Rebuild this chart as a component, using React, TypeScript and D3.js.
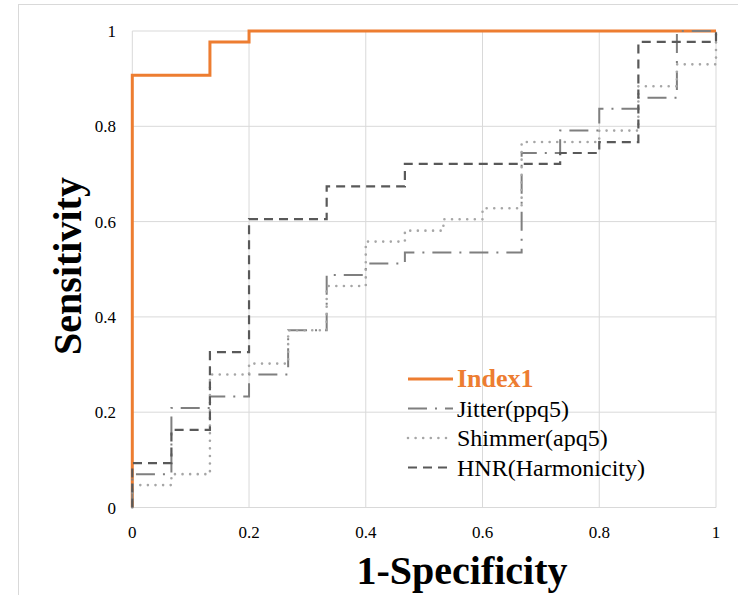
import React from "react";
import * as d3 from "d3";

const xTicks = [0, 0.2, 0.4, 0.6, 0.8, 1];
const yTicks = [0, 0.2, 0.4, 0.6, 0.8, 1];
const tickLabels = ["0", "0.2", "0.4", "0.6", "0.8", "1"];

const seriesNames = ["Index1", "Jitter(ppq5)", "Shimmer(apq5)", "HNR(Harmonicity)"];

const index1Fpr = [0, 0, 0.133, 0.133, 0.2, 0.2, 1];
const index1Tpr = [0, 0.907, 0.907, 0.977, 0.977, 1, 1];

const jitterFpr = [0, 0, 0.067, 0.067, 0.133, 0.133, 0.2, 0.2, 0.267, 0.267, 0.333, 0.333, 0.4, 0.4, 0.467, 0.467, 0.667, 0.667, 0.733, 0.733, 0.8, 0.8, 0.867, 0.867, 0.933, 0.933, 1];
const jitterTpr = [0, 0.07, 0.07, 0.209, 0.209, 0.233, 0.233, 0.279, 0.279, 0.372, 0.372, 0.488, 0.488, 0.512, 0.512, 0.535, 0.535, 0.744, 0.744, 0.791, 0.791, 0.837, 0.837, 0.86, 0.86, 1, 1];

const shimmerFpr = [0, 0, 0.067, 0.067, 0.133, 0.133, 0.2, 0.2, 0.267, 0.267, 0.333, 0.333, 0.4, 0.4, 0.467, 0.467, 0.533, 0.533, 0.6, 0.6, 0.667, 0.667, 0.8, 0.8, 0.867, 0.867, 0.933, 0.933, 1, 1];
const shimmerTpr = [0, 0.047, 0.047, 0.07, 0.07, 0.279, 0.279, 0.302, 0.302, 0.372, 0.372, 0.465, 0.465, 0.558, 0.558, 0.581, 0.581, 0.605, 0.605, 0.628, 0.628, 0.767, 0.767, 0.791, 0.791, 0.884, 0.884, 0.93, 0.93, 1];

const hnrFpr = [0, 0, 0.067, 0.067, 0.133, 0.133, 0.2, 0.2, 0.333, 0.333, 0.467, 0.467, 0.733, 0.733, 0.8, 0.8, 0.867, 0.867, 1, 1];
const hnrTpr = [0, 0.093, 0.093, 0.163, 0.163, 0.326, 0.326, 0.605, 0.605, 0.674, 0.674, 0.721, 0.721, 0.744, 0.744, 0.767, 0.767, 0.977, 0.977, 1];

const W = 738;
const H = 595;
const FONT = "Liberation Serif, Times New Roman, serif";
const TS: React.CSSProperties = { fontFamily: FONT };

const styles = [
  { color: "#ED7D31", width: 3, dash: "", cap: "butt" },
  { color: "#7f7f7f", width: 2, dash: "19 8 2 8", cap: "butt" },
  { color: "#a6a6a6", width: 2.6, dash: "0 7.6", cap: "round" },
  { color: "#595959", width: 2.2, dash: "9 6", cap: "butt" },
];

export default function App() {
  const x = d3.scaleLinear().domain([0, 1]).range([132.3, 716]);
  const y = d3.scaleLinear().domain([0, 1]).range([507.5, 31]);

  const series = [
    { fpr: index1Fpr, tpr: index1Tpr },
    { fpr: jitterFpr, tpr: jitterTpr },
    { fpr: shimmerFpr, tpr: shimmerTpr },
    { fpr: hnrFpr, tpr: hnrTpr },
  ];

  const line = d3
    .line<[number, number]>()
    .x((d) => x(d[0]))
    .y((d) => y(d[1]));

  const legendX0 = 408;
  const legendX1 = 453;
  const legendY0 = 379;
  const legendDy = 29.5;

  return (
    <svg
      width={W}
      height={H}
      style={{ position: "absolute", left: 0, top: 0, background: "#fff", fontFamily: FONT }}
    >
      <rect x={18.5} y={4.5} width={W + 10} height={H + 10} fill="#fff" stroke="#d9d9d9" strokeWidth={1} />
      {xTicks.map((t, i) => (
        <line key={"gx" + i} x1={x(t)} x2={x(t)} y1={y(0)} y2={y(1)} stroke="#d9d9d9" strokeWidth={1} />
      ))}
      {yTicks.map((t, i) => (
        <line key={"gy" + i} x1={x(0)} x2={x(1)} y1={y(t)} y2={y(t)} stroke="#d9d9d9" strokeWidth={1} />
      ))}
      {yTicks.map((t, i) => (
        <text key={"yl" + i} x={116} y={y(t) + 6} textAnchor="end" fontSize={17} fill="#000" style={TS}>
          {tickLabels[i]}
        </text>
      ))}
      {xTicks.map((t, i) => (
        <text key={"xl" + i} x={x(t)} y={538} textAnchor="middle" fontSize={17} fill="#000" style={TS}>
          {tickLabels[i]}
        </text>
      ))}
      {series.map((s, i) => {
        const pts = s.fpr.map((f, j) => [f, s.tpr[j]] as [number, number]);
        return (
          <path
            key={"s" + i}
            d={line(pts) || ""}
            fill="none"
            stroke={styles[i].color}
            strokeWidth={styles[i].width}
            strokeDasharray={styles[i].dash || undefined}
            strokeLinecap={styles[i].cap as any}
            strokeLinejoin="miter"
          />
        );
      })}
      {seriesNames.map((n, i) => {
        const ly = legendY0 + i * legendDy;
        return (
          <g key={"lg" + i}>
            <line
              x1={legendX0}
              x2={legendX1}
              y1={ly}
              y2={ly}
              stroke={styles[i].color}
              strokeWidth={styles[i].width}
              strokeDasharray={styles[i].dash || undefined}
              strokeLinecap={styles[i].cap as any}
            />
            <text
              x={457}
              y={ly + 8}
              fontSize={i === 0 ? 26 : 24}
              fontWeight={i === 0 ? "bold" : "normal"}
              fill={i === 0 ? "#ED7D31" : "#000"}
              style={TS}
            >
              {n}
            </text>
          </g>
        );
      })}
      <text x={462} y={584} textAnchor="middle" fontSize={40} fontWeight="bold" fill="#000" style={TS}>
        1-Specificity
      </text>
      <text
        transform={`translate(81, 266) rotate(-90)`}
        textAnchor="middle"
        fontSize={40}
        fontWeight="bold"
        fill="#000"
        style={TS}
      >
        Sensitivity
      </text>
    </svg>
  );
}
